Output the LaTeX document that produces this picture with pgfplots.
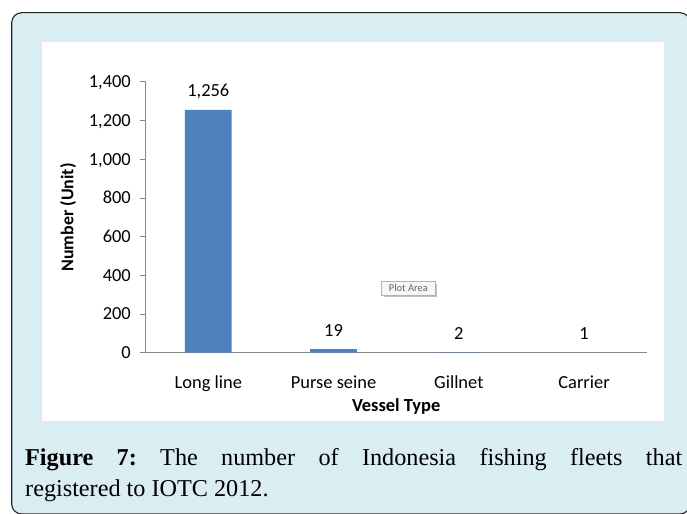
\documentclass[border=0pt]{standalone}
\usepackage{pgfplots}
\pgfplotsset{compat=1.18}
\usepackage{fontspec}
\setmainfont{Carlito}
\newfontfamily\capfont{Liberation Serif}
\definecolor{framebg}{HTML}{D9EDF3}
\definecolor{barblue}{HTML}{4F81BD}
\definecolor{axgray}{HTML}{878787}
\frenchspacing
\begin{document}
\begin{tikzpicture}
\useasboundingbox (0,0) rectangle (687bp,514bp);
\begin{scope}[x=1bp,y=1bp]
\clip (0,0) rectangle (687,514);
\fill[white] (0,0) rectangle (687,514);
\filldraw[fill=framebg, draw=black!85, line width=1.1bp, rounded corners=10bp] (11.7,0) rectangle (690,501.3);
\fill[white] (42,92.5) rectangle (664.3,472);
\node[anchor=base west, inner sep=0, font=\capfont\fontsize{24.3}{31}\selectfont] at (25,48.3) {\makebox[657bp][s]{\textbf{Figure 7:} The number of Indonesia fishing fleets that}};
\node[anchor=base west, inner sep=0, font=\capfont\fontsize{24.3}{31}\selectfont] at (25,17.3) {registered to IOTC 2012.};
\end{scope}
\begin{axis}[
  at={(145.7bp,161.3bp)}, anchor=south west,
  scale only axis, width=501bp, height=270.7bp,
  xmin=-0.5, xmax=3.5, ymin=0, ymax=1400,
  clip=false,
  axis x line*=bottom, axis y line*=left,
  axis line style={axgray, line width=1bp},
  ytick={0,200,...,1400},
  xtick={0,1,2,3},
  xticklabels={Long line, Purse seine, Gillnet, Carrier},
  x tick style={draw=none},
  y tick style={axgray, line width=1bp},
  tick align=outside, major tick length=5.7bp,
  ybar, bar width=46.7bp,
  /pgf/number format/assume math mode=true,
  /pgf/number format/1000 sep={,},
  ticklabel style={font=\fontsize{18.5}{22}\selectfont},
  yticklabel style={anchor=base east, inner sep=0pt, xshift=-9bp, yshift=-5.8bp},
  xticklabel style={anchor=base, inner sep=0pt, yshift=-30.6bp},
  nodes near coords,
  nodes near coords style={font=\fontsize{18.5}{22}\selectfont, anchor=base, inner sep=0pt, yshift=13bp},
  xlabel={\textbf{Vessel Type}},
  ylabel={\textbf{Number (Unit)}},
  xlabel style={at={(axis description cs:0.5,-0.2154)}, anchor=base, inner sep=0pt, font=\fontsize{18.5}{22}\selectfont},
  ylabel style={at={(axis description cs:-0.1551,0.5)}, anchor=center, inner sep=0pt, font=\fontsize{18}{22}\selectfont},
]
\addplot[fill=barblue, draw=none] coordinates {(0,1256) (1,19) (2,2) (3,1)};
\end{axis}
\begin{scope}[x=1bp,y=1bp]
\fill[black!25] (383.7,217) rectangle (437,230.3);
\filldraw[fill=white!97!black, draw=black!30, line width=0.6bp] (381.7,219) rectangle (435,232.3);
\node[inner sep=0, text=black!60, font=\fontsize{10.5}{12}\selectfont] at (408.35,225.65) {Plot Area};
\end{scope}
\end{tikzpicture}
\end{document}
